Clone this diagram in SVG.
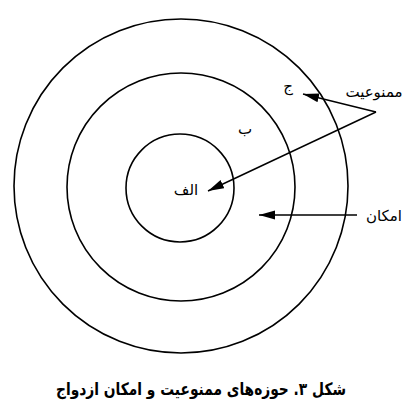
<svg xmlns="http://www.w3.org/2000/svg" width="420" height="417" viewBox="0 0 420 417">
<style>
.ring{fill:none;stroke:#000;stroke-width:1.6}
.conn{fill:none;stroke:#000;stroke-width:1.4}
.lbl{font-family:"DejaVu Sans","Noto Sans",sans-serif;font-size:15px;fill:#000}
.cap{font-family:"DejaVu Sans","Noto Sans",sans-serif;font-size:17px;font-weight:bold;fill:#000}
</style>
<defs>
<marker id="ah" markerUnits="userSpaceOnUse" markerWidth="18" markerHeight="10" refX="16" refY="4.5" orient="auto">
<path d="M0,0 L16,4.5 L0,9 z" fill="#000"/>
</marker>
</defs>
<rect width="420" height="417" fill="#fff"/>
<g id="outer"><circle class="ring" cx="181" cy="186" r="167"/><text class="lbl" x="288" y="91" text-anchor="middle">ج</text></g>
<g id="middle"><circle class="ring" cx="181" cy="187" r="114"/><text class="lbl" x="245" y="134" text-anchor="middle">ب</text></g>
<g id="inner"><circle class="ring" cx="180" cy="188" r="54"/><text class="lbl" x="186" y="195" text-anchor="middle">الف</text></g>
<g id="label-mamnoiat"><text class="lbl" x="374" y="97" text-anchor="middle">ممنوعیت</text></g>
<g id="label-emkan"><text class="lbl" x="384" y="221" text-anchor="middle">امکان</text></g>
<g id="connectors">
<path class="conn" d="M376,112 L303,94" marker-end="url(#ah)"/>
<path class="conn" d="M376,112 L208,191" marker-end="url(#ah)"/>
<path class="conn" d="M357,215 L259,215" marker-end="url(#ah)"/>
</g>
<g id="caption"><text class="cap" x="201" y="395" text-anchor="middle" direction="rtl" textLength="290" lengthAdjust="spacingAndGlyphs">شکل ۳. حوزه‌های ممنوعیت و امکان ازدواج</text></g>
</svg>
